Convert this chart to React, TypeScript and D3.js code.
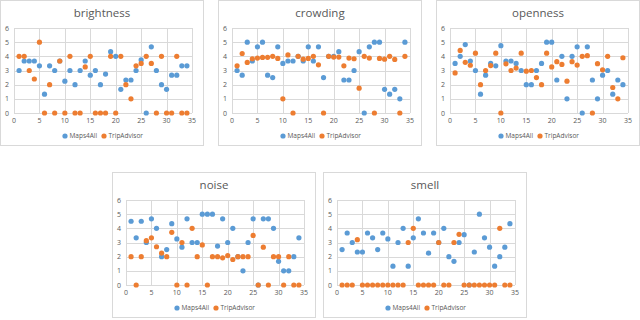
import React from "react";
import * as d3 from "d3";

const W = 640;
const H = 320;
const PANEL_W = 204;
const PANEL_H = 146;
const M = { top: 28, right: 12, bottom: 33, left: 14 };

const BLUE = "#5B9BD5";
const ORANGE = "#ED7D31";
const GRID = "#D9D9D9";
const TEXT = "#595959";

const xTicks = [0, 5, 10, 15, 20, 25, 30, 35];
const yTicks = [0, 1, 2, 3, 4, 5, 6];
const seriesNames = ["Maps4All", "TripAdvisor"];
const places = d3.range(1, 35);

// values for place 1..34
const brightnessMaps = [3, 3.67, 3.67, 3.67, 3.33, 1.33, 3.33, 3, 3.67, 2.25, 3, 2, 3, 3.67, 2.67, 3, 2, 2.75, 4.33, 4, 1.67, 2.33, 2.33, 3, 3.75, 0, 4.67, 3, 2, 1.67, 2.67, 2.67, 3.33, 3.33];
const brightnessTrip = [4, 4, 3, 2.4, 5, 0, 2, 0, 3.67, 0, 4, 0, 0, 3.25, 4, 0, 0, 0, 4, 0, 4, 2, 1, 3.33, 3.5, 4, 3.5, 0, 4, 0, 0, 4, 0, 0];

const crowdingMaps = [3, 2.67, 5, 3.67, 4.67, 5, 2.67, 2.5, 4.67, 3.5, 3.67, 3.67, 4, 3.67, 4.67, 3.67, 4.67, 2.5, 4, 4, 4.33, 2.33, 2.33, 3, 4.33, 0, 4.67, 5, 5, 1.67, 1.33, 1.67, 1, 5];
const crowdingTrip = [3.33, 4.2, 3.57, 3.83, 3.88, 3.92, 3.93, 4, 3.85, 1, 4.1, 0, 4, 3.8, 3.85, 4, 3.4, 0, 4, 3.95, 3.95, 3.33, 3.88, 3.83, 1.75, 4, 3.88, 0, 3.85, 3.8, 4, 3.78, 0, 4];

const opennessMaps = [3.5, 4, 4.83, 3.67, 3, 1.33, 2.67, 3.5, 3.33, 4.75, 3.67, 3.67, 3.5, 3, 2, 2, 3, 3.5, 5, 5, 2.33, 4, 1, 4, 4.67, 0, 4.67, 2.33, 1, 2.67, 3, 1.33, 2.33, 2];
const opennessTrip = [2.83, 4.42, 3.58, 3.37, 4.22, 2, 3, 3.35, 4.22, 0, 3.47, 3, 3.17, 4.22, 2.95, 3, 2.5, 2, 4.22, 3.25, 3.62, 3.43, 2.25, 3.62, 3.38, 4, 4.05, 0, 3.48, 3.05, 4, 1.8, 1, 3.9];

const noiseMaps = [4.5, 3.33, 4.5, 3, 4.67, 4, 2, 2.5, 4.33, 3.25, 2.67, 4.67, 3, 3, 5, 5, 5, 2.75, 4.67, 3, 4, 2, 1, 3, 4.67, 0, 4.67, 4.67, 4, 1.67, 1, 1, 2, 3.33];
const noiseTrip = [2, 0, 2, 3.13, 3.33, 2.7, 2.25, 2, 3.72, 0, 3, 0, 4, 2, 2.83, 0, 2, 2, 1.92, 2.08, 1.8, 2, 2, 2, 3.5, 0, 2.67, 0, 2, 2, 0, 2, 0, 0];

const smellMaps = [2.5, 3.67, 3, 2.33, 2.33, 3.67, 3.33, 2.5, 3.67, 3.25, 1.33, 3, 4, 1.33, 3.33, 4.67, 3.67, 2.25, 3.67, 3, 4, 2, 1.67, 3, 3.55, 0, 2.33, 5, 3.33, 2.67, 1.33, 2, 2.67, 4.33];
const smellTrip = [0, 0, 0, 3.2, 0, 0, 0, 0, 0, 0, 0, 0, 0, 3, 4, 0, 0, 0, 0, 3, 0, 0, 3, 3.58, 0, 0, 0, 0, 0, 0, 0, 4, 0, 0];

const panels = [
  { title: "brightness", maps: brightnessMaps, trip: brightnessTrip, x: 0, y: 0 },
  { title: "crowding", maps: crowdingMaps, trip: crowdingTrip, x: 218, y: 0 },
  { title: "openness", maps: opennessMaps, trip: opennessTrip, x: 436, y: 0 },
  { title: "noise", maps: noiseMaps, trip: noiseTrip, x: 112, y: 172 },
  { title: "smell", maps: smellMaps, trip: smellTrip, x: 323, y: 172 },
];

const FONT = "'Open Sans', 'Noto Sans', sans-serif";

function Panel({ title, maps, trip, x, y }) {
  const xs = d3.scaleLinear().domain([0, 35]).range([M.left, PANEL_W - M.right]);
  const ys = d3.scaleLinear().domain([0, 6]).range([PANEL_H - M.bottom, M.top]);
  const legendY = 136;
  const cx = PANEL_W / 2;
  return (
    <g transform={`translate(${x},${y})`}>
      <rect x={0.5} y={0.5} width={PANEL_W - 1} height={PANEL_H - 1} fill="#fff" stroke={GRID} />
      <text x={cx} y={17} textAnchor="middle" fontSize={11.5} fill={TEXT} fontFamily={FONT}>
        {title}
      </text>
      {yTicks.map((t) => (
        <g key={"y" + t}>
          <line x1={xs(0)} x2={xs(35)} y1={Math.round(ys(t)) + 0.5} y2={Math.round(ys(t)) + 0.5} stroke={GRID} />
          <text x={xs(0) - 5} y={ys(t) + 2.5} textAnchor="end" fontSize={7} fill={TEXT} fontFamily={FONT}>
            {t}
          </text>
        </g>
      ))}
      {xTicks.map((t) => (
        <g key={"x" + t}>
          <line x1={Math.round(xs(t)) + 0.5} x2={Math.round(xs(t)) + 0.5} y1={ys(6)} y2={ys(0)} stroke={GRID} />
          <text x={xs(t)} y={ys(0) + 10} textAnchor="middle" fontSize={7} fill={TEXT} fontFamily={FONT}>
            {t}
          </text>
        </g>
      ))}
      {maps.map((v, i) => (
        <circle key={"m" + i} cx={xs(places[i])} cy={ys(v)} r={2.6} fill={BLUE} />
      ))}
      {trip.map((v, i) => (
        <circle key={"t" + i} cx={xs(places[i])} cy={ys(v)} r={2.6} fill={ORANGE} />
      ))}
      <g transform={`translate(${cx - 37},${legendY})`}>
        <circle cx={0} cy={0} r={2.6} fill={BLUE} />
        <text x={4.5} y={2.3} fontSize={6.5} fill={TEXT} fontFamily={FONT}>{seriesNames[0]}</text>
        <circle cx={39} cy={0} r={2.6} fill={ORANGE} />
        <text x={43.5} y={2.3} fontSize={6.5} fill={TEXT} fontFamily={FONT}>{seriesNames[1]}</text>
      </g>
    </g>
  );
}

export default function App() {
  return (
    <div style={{ position: "fixed", left: 0, top: 0 }}>
      <svg width={W} height={H} style={{ display: "block", background: "#fff" }}>
        {panels.map((p) => (
          <Panel key={p.title} {...p} />
        ))}
      </svg>
    </div>
  );
}
